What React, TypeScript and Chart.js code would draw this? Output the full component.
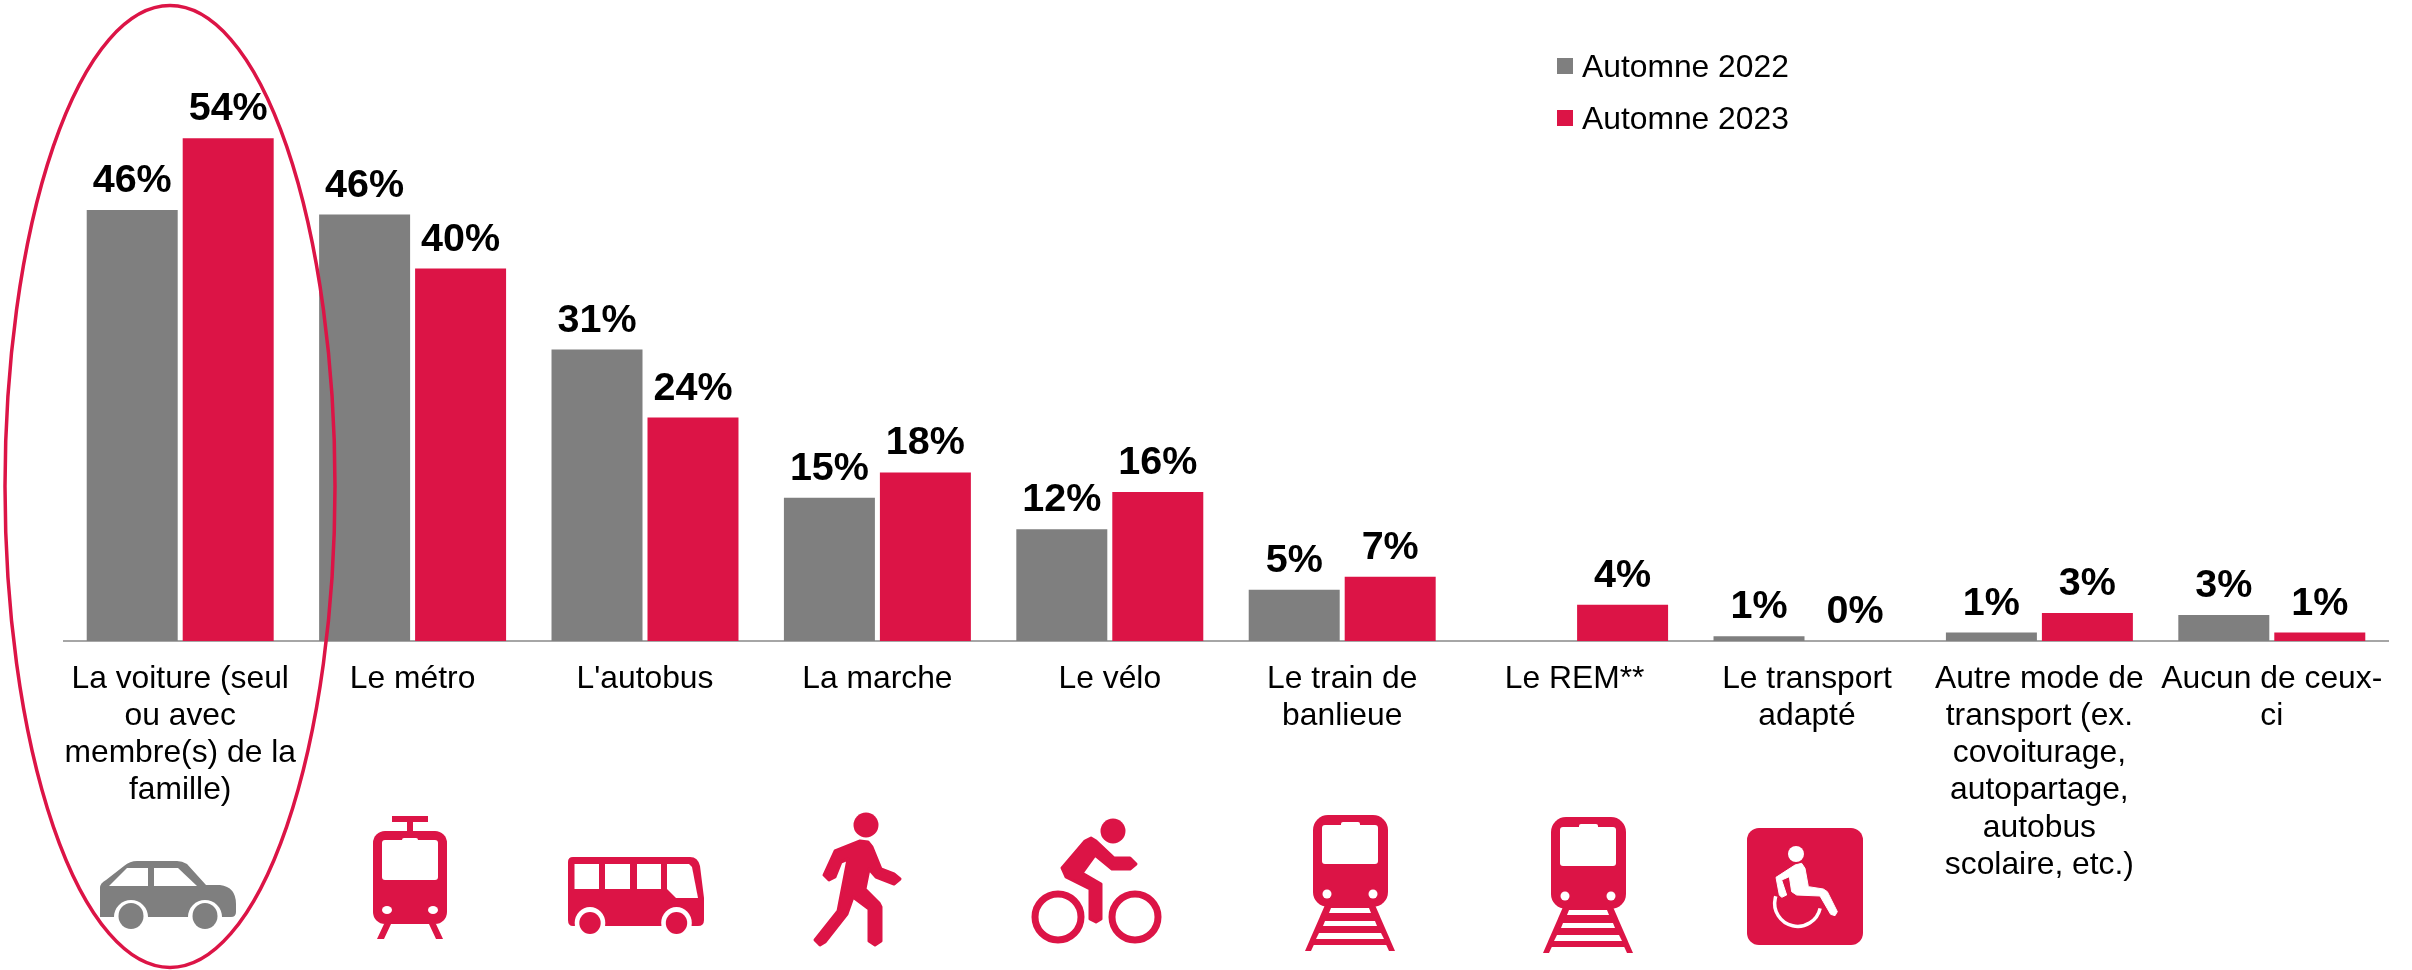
import React, { useEffect, useRef } from "react";
import { Chart, registerables } from "chart.js";

Chart.register(...registerables);

const categories: (string | string[])[] = [
  ["La voiture (seul", "ou avec", "membre(s) de la", "famille)"],
  "Le métro",
  "L'autobus",
  "La marche",
  "Le vélo",
  ["Le train de", "banlieue"],
  "Le REM**",
  ["Le transport", "adapté"],
  ["Autre mode de", "transport (ex.", "covoiturage,", "autopartage,", "autobus", "scolaire, etc.)"],
  ["Aucun de ceux-", "ci"],
];
const series2022 = [46.3, 45.8, 31.3, 15.4, 12, 5.5, null, 0.5, 0.9, 2.8];
const series2023 = [54, 40, 24, 18.1, 16, 6.9, 3.9, 0, 3, 0.9];
const labels2022 = ["46%", "46%", "31%", "15%", "12%", "5%", "", "1%", "1%", "3%"];
const labels2023 = ["54%", "40%", "24%", "18%", "16%", "7%", "4%", "0%", "3%", "1%"];

const GREY = "#7f7f7f";
const RED = "#dc1446";
const FONT = "'Liberation Sans', Arial, sans-serif";

type Pt = [number, number];
const poly = (ctx: CanvasRenderingContext2D, pts: Pt[], color: string, smooth = 0) => {
  ctx.save();
  ctx.fillStyle = color;
  ctx.strokeStyle = color;
  ctx.lineJoin = "round";
  ctx.lineWidth = smooth;
  ctx.beginPath();
  pts.forEach(([x, y], i) => (i ? ctx.lineTo(x, y) : ctx.moveTo(x, y)));
  ctx.closePath();
  ctx.fill();
  if (smooth) ctx.stroke();
  ctx.restore();
};
const oval = (ctx: CanvasRenderingContext2D, x: number, y: number, rx: number, ry: number, color: string) => {
  ctx.fillStyle = color;
  ctx.beginPath();
  ctx.ellipse(x, y, rx, ry, 0, 0, Math.PI * 2);
  ctx.fill();
};
const rrect = (ctx: CanvasRenderingContext2D, x0: number, y0: number, x1: number, y1: number, r: number, color: string) => {
  ctx.fillStyle = color;
  ctx.beginPath();
  ctx.roundRect(x0, y0, x1 - x0, y1 - y0, r);
  ctx.fill();
};

const drawCar = (ctx: CanvasRenderingContext2D) => {
  ctx.fillStyle = GREY;
  ctx.beginPath();
  ctx.moveTo(100, 917);
  ctx.lineTo(100, 888);
  ctx.quadraticCurveTo(100, 883, 106, 880);
  ctx.lineTo(124, 866);
  ctx.quadraticCurveTo(130, 861, 137, 861);
  ctx.lineTo(177, 861);
  ctx.quadraticCurveTo(182, 861, 187, 864);
  ctx.lineTo(206, 885);
  ctx.lineTo(220, 885);
  ctx.quadraticCurveTo(236, 887, 236, 904);
  ctx.lineTo(236, 912);
  ctx.quadraticCurveTo(236, 917, 231, 917);
  ctx.closePath();
  ctx.fill();
  poly(ctx, [[109, 886], [127, 868], [148, 868], [148, 886]], "#fff");
  poly(ctx, [[154, 868], [178, 868], [197, 886], [154, 886]], "#fff");
  for (const x of [131, 205]) {
    oval(ctx, x, 917, 17, 17, "#fff");
    oval(ctx, x, 916, 12.5, 13, GREY);
  }
};
const drawTram = (ctx: CanvasRenderingContext2D) => {
  rrect(ctx, 392, 816, 428, 822, 0, RED);
  rrect(ctx, 407, 822, 413, 832, 0, RED);
  rrect(ctx, 373, 831, 447, 924, 12, RED);
  rrect(ctx, 382, 840, 438, 880, 3, "#fff");
  rrect(ctx, 402, 838, 418, 842, 2, "#fff");
  oval(ctx, 387, 910, 5, 4, "#fff");
  oval(ctx, 433, 910, 5, 4, "#fff");
  poly(ctx, [[384, 924], [391, 924], [384, 939], [377, 939]], RED);
  poly(ctx, [[436, 924], [429, 924], [436, 939], [443, 939]], RED);
};
const drawBus = (ctx: CanvasRenderingContext2D) => {
  ctx.fillStyle = RED;
  ctx.beginPath();
  ctx.moveTo(568, 920);
  ctx.lineTo(568, 862);
  ctx.quadraticCurveTo(568, 857, 573, 857);
  ctx.lineTo(690, 857);
  ctx.quadraticCurveTo(698, 857, 700, 866);
  ctx.lineTo(704, 898);
  ctx.lineTo(704, 920);
  ctx.quadraticCurveTo(704, 926, 698, 926);
  ctx.lineTo(573, 926);
  ctx.quadraticCurveTo(568, 926, 568, 920);
  ctx.fill();
  for (const [a, b] of [[574.5, 599], [605, 630], [637, 661]]) rrect(ctx, a, 864, b, 889, 0, "#fff");
  poly(ctx, [[667, 864], [689, 864], [692, 867], [698, 898], [676, 898], [667, 889]], "#fff");
  for (const x of [590, 676.5]) {
    oval(ctx, x, 923, 15.3, 16, "#fff");
    oval(ctx, x, 923, 10.7, 11, RED);
  }
};
const drawWalker = (ctx: CanvasRenderingContext2D) => {
  oval(ctx, 866, 825, 12.5, 12.5, RED);
  poly(ctx, [[835, 851], [860, 841], [868, 842], [872, 847], [881, 869], [894, 874], [900, 879], [894, 884], [876, 877], [869, 869], [865, 889], [879, 903], [881, 907], [881, 941], [875, 945], [869, 941], [869, 909], [853, 897], [847, 914], [825, 942], [820, 945], [815, 940], [838, 911], [848, 859], [841, 862], [835, 877], [829, 880], [824, 875]], RED, 3);
};
const drawCyclist = (ctx: CanvasRenderingContext2D) => {
  oval(ctx, 1113, 831, 12.5, 12.5, RED);
  poly(ctx, [[1091, 838], [1096, 841], [1114, 858], [1130, 858], [1136, 864], [1130, 869], [1112, 869], [1095, 855], [1082, 873], [1101, 884], [1101, 919], [1096, 922], [1090, 919], [1090, 889], [1066, 877], [1062, 868], [1085, 841]], RED, 3);
  ctx.strokeStyle = RED;
  ctx.lineWidth = 7;
  for (const x of [1058, 1135]) {
    ctx.beginPath();
    ctx.ellipse(x, 917, 23, 23, 0, 0, Math.PI * 2);
    ctx.stroke();
  }
};
const drawTrain = (ctx: CanvasRenderingContext2D, ox: number, oy: number) => {
  ctx.save();
  ctx.translate(ox, oy);
  poly(ctx, [[1326, 905], [1374, 905], [1391, 945], [1309, 945]], RED);
  poly(ctx, [[1325, 905], [1332, 905], [1311, 951], [1305, 951]], RED);
  poly(ctx, [[1375, 905], [1368, 905], [1389, 951], [1395, 951]], RED);
  poly(ctx, [[1331, 908], [1369, 908], [1371, 913], [1329, 913]], "#fff");
  poly(ctx, [[1325, 921], [1375, 921], [1377, 926], [1323, 926]], "#fff");
  poly(ctx, [[1319, 933], [1381, 933], [1384, 939], [1316, 939]], "#fff");
  rrect(ctx, 1313, 815, 1388, 907, 15, RED);
  rrect(ctx, 1322, 825, 1378, 864, 3, "#fff");
  rrect(ctx, 1341, 822, 1360, 827, 2, "#fff");
  oval(ctx, 1327, 894, 4.5, 4.5, "#fff");
  oval(ctx, 1373, 894, 4.5, 4.5, "#fff");
  ctx.restore();
};
const drawChair = (ctx: CanvasRenderingContext2D) => {
  rrect(ctx, 1747, 828, 1863, 945, 12, RED);
  oval(ctx, 1796, 854, 8, 8, "#fff");
  const z: Pt[] = [[108, 172], [165, 135], [185, 130], [195, 145], [205, 200], [250, 207], [262, 215], [292, 275], [285, 287], [272, 283], [240, 228], [170, 225], [155, 215], [148, 170], [125, 180], [140, 225], [125, 232], [118, 225]];
  poly(ctx, z.map(([x, y]) => [1740 + x / 3, 820 + y / 3] as Pt), "#fff", 1);
  ctx.strokeStyle = "#fff";
  ctx.lineWidth = 3.5;
  ctx.beginPath();
  ctx.arc(1740 + 173 / 3, 820 + 250 / 3, 23, Math.PI * 0.07, Math.PI * 1.1);
  ctx.stroke();
};

const overlayPlugin = {
  id: "overlay",
  afterDatasetsDraw(chart: any) {
    const ctx: CanvasRenderingContext2D = chart.ctx;
    ctx.save();
    ctx.fillStyle = "#000";
    ctx.font = `bold 39.5px ${FONT}`;
    ctx.textAlign = "center";
    ctx.textBaseline = "alphabetic";
    [labels2022, labels2023].forEach((labels, d) => {
      chart.getDatasetMeta(d).data.forEach((bar: any, i: number) => {
        if (labels[i]) ctx.fillText(labels[i], bar.x, bar.y - 18);
      });
    });
    ctx.font = `31.8px ${FONT}`;
    ctx.textAlign = "left";
    chart.data.datasets.forEach((ds: any, i: number) => {
      const y = 58 + i * 52;
      ctx.fillStyle = ds.backgroundColor;
      ctx.fillRect(1557, y, 16, 16);
      ctx.fillStyle = "#000";
      ctx.fillText(ds.label, 1582, y + 18.5);
    });
    drawCar(ctx);
    drawTram(ctx);
    drawBus(ctx);
    drawWalker(ctx);
    drawCyclist(ctx);
    drawTrain(ctx, 0, 0);
    drawTrain(ctx, 238, 2);
    drawChair(ctx);
    ctx.strokeStyle = RED;
    ctx.lineWidth = 3.5;
    ctx.beginPath();
    ctx.ellipse(170, 486.5, 165, 481, 0, 0, Math.PI * 2);
    ctx.stroke();
    ctx.restore();
  },
};

export default function App() {
  const ref = useRef<HTMLCanvasElement>(null);
  useEffect(() => {
    if (!ref.current) return;
    const chart = new Chart(ref.current, {
      type: "bar",
      data: {
        labels: categories,
        datasets: [
          { label: "Automne 2022", data: series2022, backgroundColor: GREY, borderWidth: 0, categoryPercentage: 0.826, barPercentage: 0.948 },
          { label: "Automne 2023", data: series2023, backgroundColor: RED, borderWidth: 0, categoryPercentage: 0.826, barPercentage: 0.948 },
        ],
      },
      options: {
        responsive: false,
        animation: false,
        layout: { padding: { left: 64, right: 24, top: 82.4, bottom: 0 } },
        plugins: {
          title: { display: false },
          tooltip: { enabled: false },
          legend: { display: false },
        },
        scales: {
          y: { display: false, min: 0, max: 60 },
          x: {
            grid: { display: false, drawTicks: false },
            border: { display: true, color: "#a6a6a6", width: 2 },
            afterFit(scale: any) {
              scale.height = 329;
            },
            ticks: {
              autoSkip: false,
              maxRotation: 0,
              minRotation: 0,
              padding: 19.5,
              color: "#000",
              font: { family: FONT, size: 31.8, lineHeight: 1.17 },
            },
          },
        },
      },
      plugins: [overlayPlugin],
    } as any);
    return () => chart.destroy();
  }, []);
  return (
    <div style={{ position: "absolute", left: 0, top: 0, width: 2412, height: 970, background: "#fff" }}>
      <canvas ref={ref} width={2412} height={970} style={{ display: "block" }} />
    </div>
  );
}
